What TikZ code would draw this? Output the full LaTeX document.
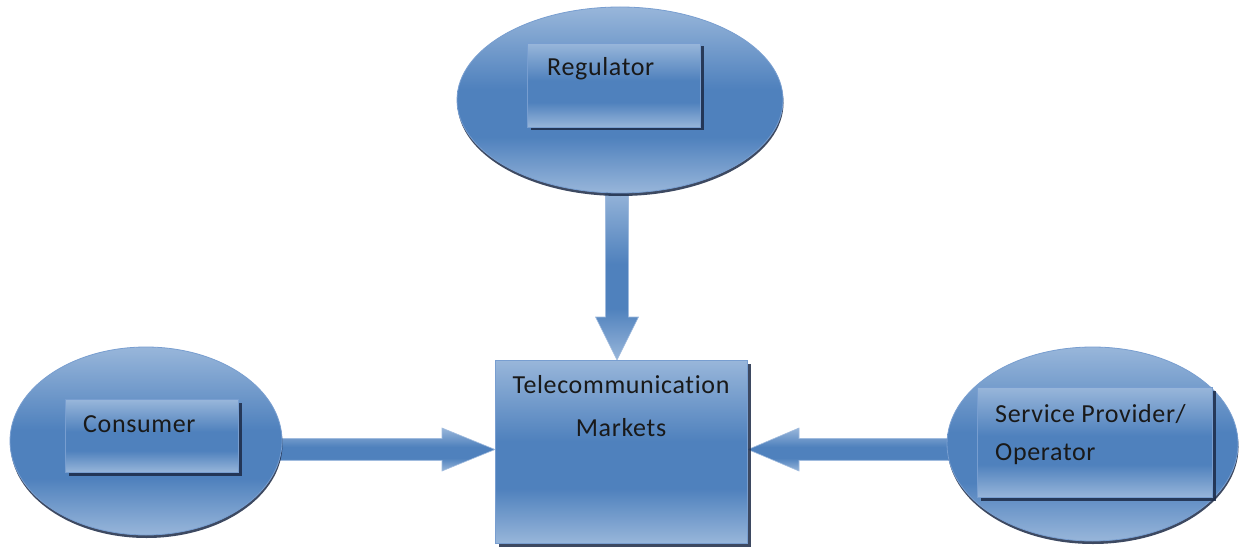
\documentclass[tikz,border=0pt]{standalone}
\usepackage{fontspec}
\setmainfont{Carlito}[Ligatures=NoCommon, LetterSpace=2.5]
\usetikzlibrary{shapes.geometric,shadows,calc}

\definecolor{blueLight}{RGB}{152,182,218}
\definecolor{blueMid}{RGB}{79,129,189}
\definecolor{blueEdge}{RGB}{120,158,208}
\definecolor{shadowBlue}{RGB}{28,42,70}

% light - dark - light vertical gradient used on every shape
\pgfdeclareverticalshading{officeblue}{100bp}{%
  color(0bp)=(blueLight); color(25bp)=(blueLight);
  color(40bp)=(blueMid); color(53bp)=(blueMid);
  color(75bp)=(blueLight); color(100bp)=(blueLight)}

\pgfdeclarelayer{bg}
\pgfsetlayers{bg,main}

\tikzset{
  oval/.style={ellipse, shading=officeblue, draw=blueEdge, line width=0.8pt,
    inner sep=0pt,
    drop shadow={shadow xshift=0.5pt, shadow yshift=-3pt, fill=shadowBlue, opacity=0.85}},
  panel/.style={rectangle, shading=officeblue, draw=blueEdge, line width=1pt,
    inner sep=0pt, anchor=north west,
    drop shadow={shadow xshift=3pt, shadow yshift=-3pt, fill=shadowBlue, opacity=0.85}},
  txt/.style={font=\fontsize{26}{31}\selectfont, text=black!90, anchor=base west,
    inner sep=0pt},
  flow/.style={shading=officeblue, draw=blueEdge!70!white, line width=0.6pt},
}

\begin{document}
\begin{tikzpicture}[x=1pt, y=-1pt]
\begin{pgfonlayer}{bg}
  \fill[white] (0,0) rectangle (1241,548);
\end{pgfonlayer}
\useasboundingbox (0,0) rectangle (1241,548);

% Regulator
\node[oval, minimum width=326pt, minimum height=186pt] (regO) at (620,100) {};
\node[panel, minimum width=173pt, minimum height=84pt] (regB) at (527,43) {};
\node[txt] (regT) at (547,76) {Regulator};

% Consumer
\node[oval, minimum width=272pt, minimum height=188pt] (conO) at (146,441) {};
\node[panel, minimum width=173pt, minimum height=73pt] (conB) at (65,399) {};
\node[txt] (conT) at (83,432) {Consumer};

% Service provider / operator
\node[oval, minimum width=291pt, minimum height=194pt] (spO) at (1092.5,444) {};
\node[panel, minimum width=235pt, minimum height=110pt] (spB) at (977,387) {};
\node[txt] (spT1) at (995,422) {Service Provider/};
\node[txt] (spT2) at (995,460) {Operator};

% Telecommunication markets
\node[panel, minimum width=252pt, minimum height=183pt] (tm) at (495,360) {};
\node[txt, anchor=base] (tmT1) at (621,393) {Telecommunication};
\node[txt, anchor=base] (tmT2) at (621,436) {Markets};

% Block arrows, kept behind the ovals
\begin{pgfonlayer}{bg}
  \path[flow] let \p1=(regO.south), \p2=(tm.north) in
    (\x1-14.5pt,\y1+5pt) -- (\x1-14.5pt,\y2+43pt) -- (\x1-24.5pt,\y2+43pt)
    -- (\x1-3pt,\y2) -- (\x1+18.5pt,\y2+43pt) -- (\x1+8.5pt,\y2+43pt)
    -- (\x1+8.5pt,\y1+5pt) -- cycle;
  \path[flow] let \p1=(conO.east), \p2=(tm.west) in
    (\x1-5pt,\y2+13.5pt) -- (\x2-53pt,\y2+13.5pt) -- (\x2-53pt,\y2+24pt)
    -- (\x2,\y2+2.5pt) -- (\x2-53pt,\y2-19pt) -- (\x2-53pt,\y2-8.5pt)
    -- (\x1-5pt,\y2-8.5pt) -- cycle;
  \path[flow] let \p1=(spO.west), \p2=(tm.east) in
    (\x1+5pt,\y2+13.5pt) -- (\x2+51pt,\y2+13.5pt) -- (\x2+51pt,\y2+24pt)
    -- (\x2,\y2+2.5pt) -- (\x2+51pt,\y2-19pt) -- (\x2+51pt,\y2-8.5pt)
    -- (\x1+5pt,\y2-8.5pt) -- cycle;
\end{pgfonlayer}
\end{tikzpicture}
\end{document}
